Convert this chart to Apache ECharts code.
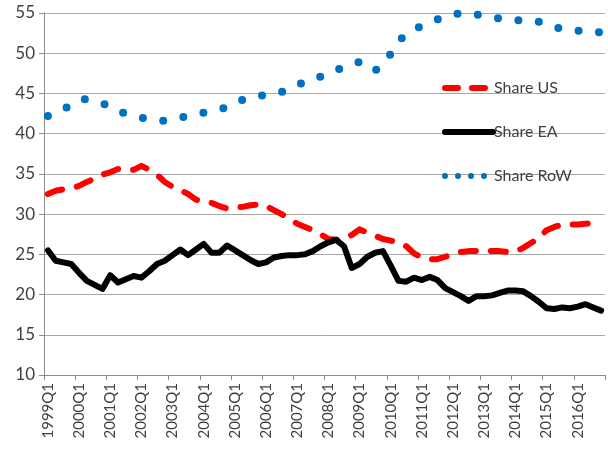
<!DOCTYPE html>
<html>
<head>
<meta charset="utf-8">
<script src="https://cdn.jsdelivr.net/npm/echarts@6/dist/echarts.min.js"></script>
<style>
html,body{margin:0;padding:0;background:#fff;}
#chart{width:608px;height:450px;}
</style>
</head>
<body>
<div id="chart"></div>
<script>
var years = [1999,2000,2001,2002,2003,2004,2005,2006,2007,2008,2009,2010,2011,2012,2013,2014,2015,2016];
var categories = [];
years.forEach(function(y){ for (var q = 1; q <= 4; q++) categories.push(y + 'Q' + q); });

var shareUS = [
 32.5,32.9,33.1,33.2,33.5,34.0,34.4,34.9,35.2,35.6,35.6,35.5,
 36.0,35.5,34.9,34.0,33.4,33.0,32.5,31.8,31.5,31.4,31.0,30.7,
 30.8,30.9,31.1,31.2,31.0,30.5,30.0,29.4,28.8,28.4,28.0,27.5,
 26.9,26.8,27.0,27.4,28.1,27.7,27.3,26.9,26.7,26.5,26.0,25.1,
 24.6,24.4,24.4,24.7,25.0,25.3,25.4,25.4,25.4,25.4,25.4,25.3,
 25.3,25.8,26.4,27.0,28.0,28.4,28.7,28.7,28.7,28.8,28.9,28.9
];
var shareEA = [
 25.5,24.2,24.0,23.8,22.7,21.7,21.2,20.7,22.4,21.5,21.9,22.3,
 22.1,22.9,23.8,24.2,24.9,25.6,24.9,25.6,26.3,25.2,25.2,26.1,
 25.5,24.9,24.3,23.8,24.0,24.6,24.8,24.9,24.9,25.0,25.4,26.0,
 26.5,26.8,26.0,23.3,23.8,24.7,25.2,25.4,23.6,21.7,21.6,22.1,
 21.8,22.2,21.8,20.8,20.3,19.8,19.2,19.8,19.8,19.9,20.2,20.5,
 20.5,20.4,19.8,19.1,18.3,18.2,18.4,18.3,18.5,18.8,18.4,18.0
];
var shareRoW = [
 42.2,42.6,43.0,43.6,44.2,44.3,44.0,43.8,43.3,42.8,42.5,42.2,
 42.0,41.8,41.7,41.6,41.8,42.0,42.2,42.4,42.6,42.8,43.0,43.3,
 43.8,44.2,44.5,44.7,44.8,45.0,45.2,45.6,46.0,46.5,46.8,47.1,
 47.5,47.9,48.3,48.7,48.9,48.3,47.8,48.8,49.9,51.5,52.4,53.0,
 53.4,53.8,54.2,54.5,54.8,55.0,54.9,54.8,54.7,54.5,54.3,54.2,
 54.1,54.1,54.0,53.9,53.7,53.3,53.0,52.9,52.8,52.7,52.6,52.6
];
var seriesNames = ['Share US', 'Share EA', 'Share RoW'];

var chart = echarts.init(document.getElementById('chart'), null, {renderer: 'canvas'});
var fontFam = 'Lato, "Open Sans", sans-serif';
chart.setOption({
  animation: false,
  backgroundColor: '#ffffff',
  grid: {left: 44, right: 3, top: 13, bottom: 75, containLabel: false},
  legend: {
    data: [
      {name: seriesNames[0], lineStyle: {width: 6, type: [13, 14], cap: 'round'}},
      {name: seriesNames[1], lineStyle: {width: 6, type: 'solid', cap: 'round'}},
      {name: seriesNames[2], lineStyle: {width: 6, type: [0, 13], cap: 'round'}}
    ],
    orient: 'vertical',
    left: 437,
    top: 75,
    itemWidth: 48,
    itemHeight: 16,
    itemGap: 28,
    itemStyle: {opacity: 0},
    textStyle: {fontFamily: fontFam, fontSize: 16, color: '#404040', padding: [0,0,0,-4]},
    selectedMode: false
  },
  xAxis: {
    type: 'category',
    data: categories,
    boundaryGap: true,
    axisLine: {lineStyle: {color: '#8c8c8c', width: 1}},
    axisTick: {show: true, interval: 3, length: 5, lineStyle: {color: '#8c8c8c'}},
    axisLabel: {interval: 3, rotate: 90, fontFamily: fontFam, fontSize: 15, color: '#404040', margin: 8},
    splitLine: {show: false}
  },
  yAxis: {
    type: 'value',
    min: 10, max: 55, interval: 5,
    axisLine: {show: true, lineStyle: {color: '#8c8c8c', width: 1}},
    axisTick: {show: true, length: 5, lineStyle: {color: '#8c8c8c'}},
    axisLabel: {fontFamily: fontFam, fontSize: 17, color: '#404040', margin: 9},
    splitLine: {show: true, lineStyle: {color: '#a6a6a6', width: 1}}
  },
  series: [
    {
      name: 'Share US', type: 'line', data: shareUS, symbol: 'none',
      lineStyle: {color: '#ff0000', width: 6, type: [15, 15], cap: 'round', join: 'round'},
      itemStyle: {color: '#ff0000'}
    },
    {
      name: 'Share EA', type: 'line', data: shareEA, symbol: 'none',
      lineStyle: {color: '#000000', width: 6, type: 'solid', cap: 'round', join: 'round'},
      itemStyle: {color: '#000000'}
    },
    {
      name: 'Share RoW', type: 'line', data: shareRoW, symbol: 'none',
      lineStyle: {color: '#0070c0', width: 8, type: [0, 20.5], cap: 'round', join: 'round'},
      itemStyle: {color: '#0070c0'}
    }
  ]
});
</script>
</body>
</html>
